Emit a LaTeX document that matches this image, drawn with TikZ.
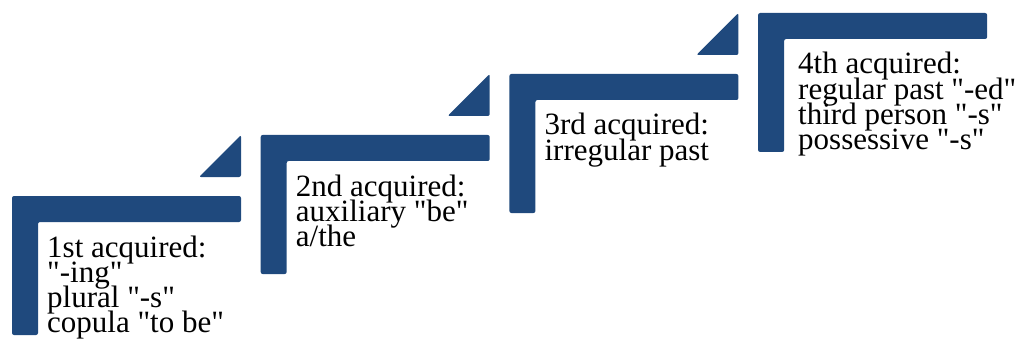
\documentclass[tikz,border=0pt]{standalone}
\usepackage{fontspec}
\setmainfont{Liberation Serif}
\definecolor{stairblue}{HTML}{1F497D}
\newcommand{\dq}{\textquotedbl}
\newcommand{\tightlines}{\lineskiplimit=-20pt\relax}
\begin{document}
\begin{tikzpicture}[x=1pt,y=-1pt]
\tikzset{stair/.style={fill=stairblue, rounded corners=2pt},
  stairtext/.style={anchor=base west, align=left, inner sep=0pt, font=\fontsize{31}{25.3}\selectfont\tightlines}}
\useasboundingbox (0,0) rectangle (1024,358);
% step 1 (anchor on the last line)
\fill[stair] (12,196) -- (241,196) -- (241,222) -- (38,222) -- (38,335) -- (12,335) -- cycle;
\fill[stair] (199,177) -- (241,135) -- (241,177) -- cycle;
\node[stairtext] (S1) at (47,332.9) {1st acquired:\\\dq-ing\dq\\plural \dq-s\dq\\copula \dq to be\dq};
% step 2
\fill[stair] (260.7,135) -- (489.7,135) -- (489.7,161) -- (286.7,161) -- (286.7,274) -- (260.7,274) -- cycle;
\fill[stair] (447.7,116) -- (489.7,74) -- (489.7,116) -- cycle;
\node[stairtext] (S2) at (295.7,246.6) {2nd acquired:\\auxiliary \dq be\dq\\a/the};
% step 3
\fill[stair] (509.4,74) -- (738.4,74) -- (738.4,100) -- (535.4,100) -- (535.4,213) -- (509.4,213) -- cycle;
\fill[stair] (696.4,55) -- (738.4,13) -- (738.4,55) -- cycle;
\node[stairtext] (S3) at (544.4,160.3) {3rd acquired:\\irregular past};
% step 4
\fill[stair] (758.1,13) -- (987.1,13) -- (987.1,39) -- (784.1,39) -- (784.1,152) -- (758.1,152) -- cycle;
\node[stairtext] (S4) at (798,149.9) {4th acquired:\\regular past \dq-ed\dq\\third person \dq-s\dq\\possessive \dq-s\dq};
\end{tikzpicture}
\end{document}
